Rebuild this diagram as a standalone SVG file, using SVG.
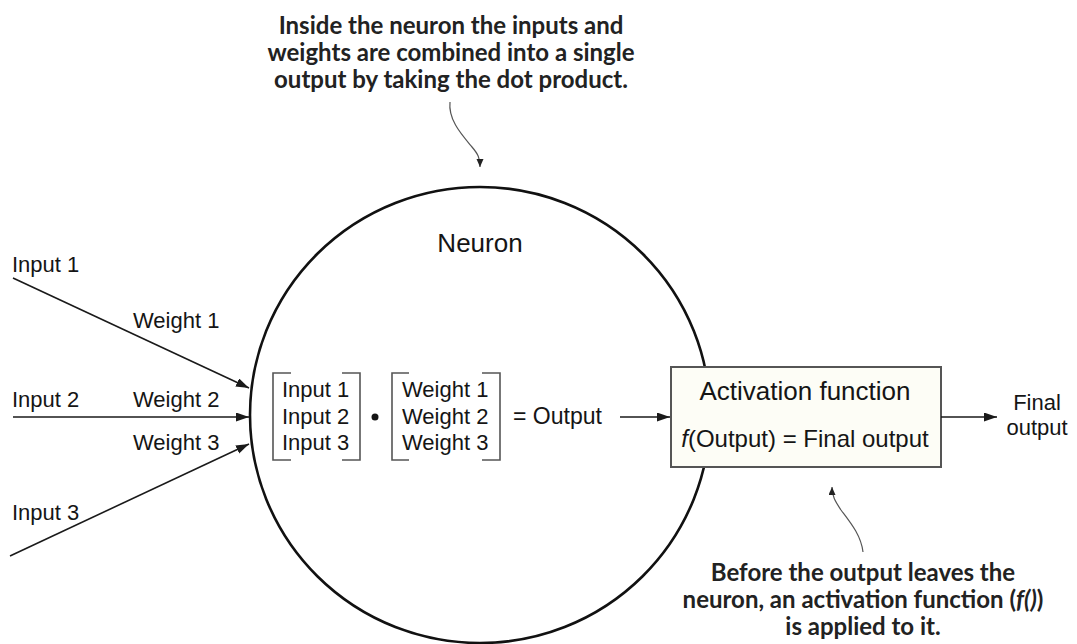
<svg xmlns="http://www.w3.org/2000/svg" width="1077" height="644" viewBox="0 0 1077 644">
<style>
.lbl{font-family:"Liberation Sans",Arial,sans-serif;fill:#151515}
.call{font-family:Lato,"Open Sans",sans-serif;font-weight:700;font-size:24px;fill:#222}
.wire{stroke:#1a1a1a;stroke-width:1.6;fill:none}
.sq{stroke:#555;stroke-width:1.2;fill:none}
.brk{stroke:#555;stroke-width:1.6;fill:none}
</style>
<defs>
<marker id="ah" markerUnits="userSpaceOnUse" markerWidth="14" markerHeight="10" refX="13" refY="4.5" orient="auto">
<path d="M0,0 L13,4.5 L0,9 z" fill="#1a1a1a"/>
</marker>
<marker id="ahs" markerUnits="userSpaceOnUse" markerWidth="9" markerHeight="8" refX="8" refY="3.5" orient="auto">
<path d="M0,0 L8,3.5 L0,7 z" fill="#222"/>
</marker>
</defs>
<rect width="1077" height="644" fill="#fff"/>

<g id="neuron">
<ellipse cx="480" cy="415" rx="230" ry="228" fill="none" stroke="#111" stroke-width="2.6"/>
<text class="lbl" x="480" y="252" font-size="26" text-anchor="middle">Neuron</text>
</g>

<g id="input-vector">
<path class="brk" d="M291,373 H273 V460 H291"/>
<path class="brk" d="M342,373 H360 V460 H342"/>
<text class="lbl" font-size="22" x="282" y="397">Input 1</text>
<text class="lbl" font-size="22" x="282" y="423.5">Input 2</text>
<text class="lbl" font-size="22" x="282" y="450">Input 3</text>
</g>

<g id="dot-op">
<circle cx="375" cy="417" r="3.5" fill="#151515"/>
</g>

<g id="weight-vector">
<path class="brk" d="M409,373 H392 V460 H409"/>
<path class="brk" d="M482,373 H500 V460 H482"/>
<text class="lbl" font-size="22" x="402" y="397">Weight 1</text>
<text class="lbl" font-size="22" x="402" y="423.5">Weight 2</text>
<text class="lbl" font-size="22" x="402" y="450">Weight 3</text>
</g>

<g id="output-eq">
<text class="lbl" font-size="23" x="513" y="424">= Output</text>
</g>

<g id="activation">
<rect x="671" y="367" width="270" height="100" fill="#fdfdf6" stroke="#555" stroke-width="2"/>
<text class="lbl" font-size="26" x="805" y="400" text-anchor="middle">Activation function</text>
<text class="lbl" font-size="24" x="805" y="447" text-anchor="middle"><tspan font-style="italic">f</tspan>(Output) = Final output</text>
</g>

<g id="final-output">
<text class="lbl" font-size="22" x="1037" y="410" text-anchor="middle">Final</text>
<text class="lbl" font-size="22" x="1037" y="435" text-anchor="middle">output</text>
</g>

<g id="inputs">
<text class="lbl" font-size="22" x="12" y="272">Input 1</text>
<text class="lbl" font-size="22" x="12" y="407">Input 2</text>
<text class="lbl" font-size="22" x="12" y="520">Input 3</text>
<text class="lbl" font-size="22" x="133" y="328">Weight 1</text>
<text class="lbl" font-size="22" x="133" y="407">Weight 2</text>
<text class="lbl" font-size="22" x="133" y="450">Weight 3</text>
</g>

<g id="connectors">
<line class="wire" x1="13" y1="278" x2="249" y2="388" marker-end="url(#ah)"/>
<line class="wire" x1="13" y1="417" x2="249" y2="417" marker-end="url(#ah)"/>
<line class="wire" x1="10" y1="556" x2="249" y2="444" marker-end="url(#ah)"/>
<line class="wire" x1="620" y1="417" x2="670" y2="417" marker-end="url(#ah)"/>
<line class="wire" x1="941" y1="417" x2="997" y2="417" marker-end="url(#ah)"/>
<path class="sq" d="M450,102 C448,120 462,135 472,147 C478,154 480,158 480,167" marker-end="url(#ahs)"/>
<path class="sq" d="M863,552 C861,535 850,522 841,510 C835,501 832,496 832,487" marker-end="url(#ahs)"/>
</g>

<g id="note-top">
<text class="call" x="451" y="34" text-anchor="middle">Inside the neuron the inputs and</text>
<text class="call" x="451" y="61" text-anchor="middle">weights are combined into a single</text>
<text class="call" x="451" y="88" text-anchor="middle">output by taking the dot product.</text>
</g>

<g id="note-bottom">
<text class="call" x="863" y="581" text-anchor="middle">Before the output leaves the</text>
<text class="call" x="863" y="608" text-anchor="middle">neuron, an activation function (<tspan font-style="italic">f()</tspan>)</text>
<text class="call" x="863" y="635" text-anchor="middle">is applied to it.</text>
</g>
</svg>
